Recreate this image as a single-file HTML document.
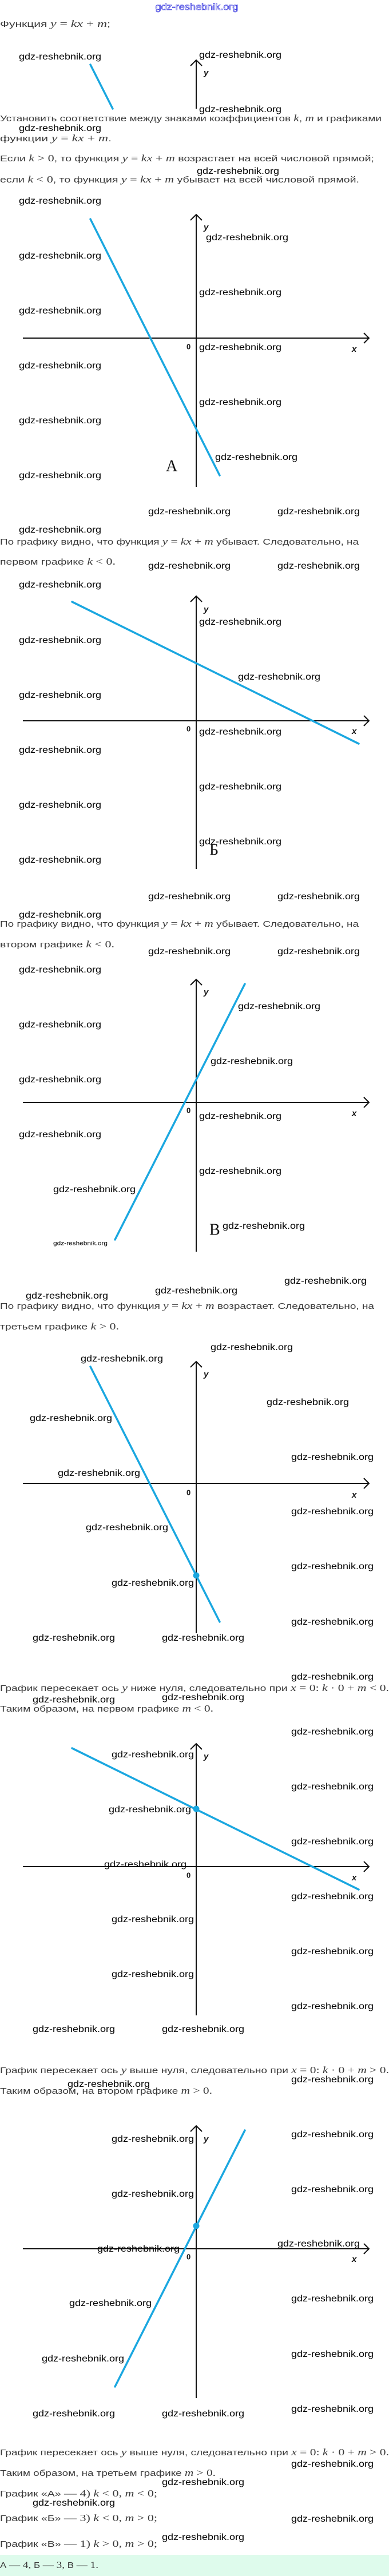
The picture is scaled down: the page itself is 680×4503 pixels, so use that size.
<!DOCTYPE html>
<html><head><meta charset="utf-8"><style>
html,body{margin:0;padding:0;background:#fff}
svg{display:block}
.w{font-family:"Liberation Sans",sans-serif;font-size:16px;fill:#000;dominant-baseline:middle}
.t{font-family:"Liberation Sans",sans-serif;font-size:15px;fill:#3a3a3a;dominant-baseline:middle}
.m{font-family:"Liberation Serif",serif;font-style:italic;font-size:17px}
.n{font-family:"Liberation Serif",serif;font-size:17px}
.ax{stroke:#111;stroke-width:2;fill:none}
.bl{stroke:#1aa7e0;stroke-width:3.5;stroke-linecap:round;fill:none}
.lab{font-family:"Liberation Sans",sans-serif;font-size:15px;font-weight:bold;font-style:italic;fill:#111;dominant-baseline:middle}
.z{font-family:"Liberation Sans",sans-serif;font-size:13px;font-weight:bold;fill:#111;dominant-baseline:middle}
.L{font-family:"Liberation Serif",serif;font-size:28px;fill:#111;dominant-baseline:middle}
</style></head><body>
<svg width="680" height="4503" viewBox="0 0 680 4503" xmlns="http://www.w3.org/2000/svg">
<rect x="0" y="4466" width="680" height="37" fill="#defbec"/>
<text x="344" y="13" text-anchor="middle" font-family="Liberation Sans" font-size="17" fill="#fff" stroke="#3a3ae0" stroke-width="0.8" dominant-baseline="middle" textLength="145" lengthAdjust="spacingAndGlyphs">gdz-reshebnik.org</text>

<!-- text top -->
<text class="t" x="0" y="43" textLength="193" lengthAdjust="spacingAndGlyphs">Функция <tspan class="m">y</tspan> <tspan class="n">=</tspan> <tspan class="m">kx</tspan> <tspan class="n">+</tspan> <tspan class="m">m</tspan>;</text>
<!-- small clipped picture -->
<line class="ax" x1="343" y1="105" x2="343" y2="190"/><polyline class="ax" points="333,115 343,105 353,115"/>
<text class="lab" x="356" y="128">y</text>
<line class="bl" x1="158" y1="113" x2="197" y2="190"/>
<text class="w" x="33" y="100" textLength="144" lengthAdjust="spacingAndGlyphs">gdz-reshebnik.org</text>
<text class="w" x="348" y="97" textLength="144" lengthAdjust="spacingAndGlyphs">gdz-reshebnik.org</text>
<text class="w" x="348" y="192" textLength="144" lengthAdjust="spacingAndGlyphs">gdz-reshebnik.org</text>
<text class="t" x="0" y="208" textLength="667" lengthAdjust="spacingAndGlyphs">Установить соответствие между знаками коэффициентов <tspan class="m">k</tspan>, <tspan class="m">m</tspan> и графиками</text>
<text class="w" x="33" y="225" textLength="144" lengthAdjust="spacingAndGlyphs">gdz-reshebnik.org</text>
<text class="t" x="0" y="243" textLength="195" lengthAdjust="spacingAndGlyphs">функции <tspan class="m">y</tspan> <tspan class="n">=</tspan> <tspan class="m">kx</tspan> <tspan class="n">+</tspan> <tspan class="m">m</tspan>.</text>
<text class="t" x="0" y="278" textLength="654" lengthAdjust="spacingAndGlyphs">Если <tspan class="m">k</tspan> <tspan class="n">&gt; 0</tspan>, то функция <tspan class="m">y</tspan> <tspan class="n">=</tspan> <tspan class="m">kx</tspan> <tspan class="n">+</tspan> <tspan class="m">m</tspan> возрастает на всей числовой прямой;</text>
<text class="w" x="344" y="300" textLength="144" lengthAdjust="spacingAndGlyphs">gdz-reshebnik.org</text>
<text class="t" x="0" y="315" textLength="628" lengthAdjust="spacingAndGlyphs">если <tspan class="m">k</tspan> <tspan class="n">&lt; 0</tspan>, то функция <tspan class="m">y</tspan> <tspan class="n">=</tspan> <tspan class="m">kx</tspan> <tspan class="n">+</tspan> <tspan class="m">m</tspan> убывает на всей числовой прямой.</text>

<!-- Graph A -->
<line class="ax" x1="343" y1="375" x2="343" y2="851"/><polyline class="ax" points="333,385 343,375 353,385"/>
<line class="ax" x1="40" y1="591" x2="645" y2="591"/><polyline class="ax" points="636,582 645,591 636,600"/>
<text class="lab" x="356" y="398">y</text><text class="z" x="326" y="607">0</text><text class="lab" x="615" y="611">x</text>
<line class="bl" x1="158" y1="383" x2="384" y2="831"/>
<text class="L" x="290" y="817">A</text>
<g class="w" >
<text class="w" x="33" y="352" textLength="144" lengthAdjust="spacingAndGlyphs">gdz-reshebnik.org</text>
<text class="w" x="360" y="416" textLength="144" lengthAdjust="spacingAndGlyphs">gdz-reshebnik.org</text>
<text class="w" x="33" y="448" textLength="144" lengthAdjust="spacingAndGlyphs">gdz-reshebnik.org</text>
<text class="w" x="348" y="512" textLength="144" lengthAdjust="spacingAndGlyphs">gdz-reshebnik.org</text>
<text class="w" x="33" y="544" textLength="144" lengthAdjust="spacingAndGlyphs">gdz-reshebnik.org</text>
<text class="w" x="348" y="608" textLength="144" lengthAdjust="spacingAndGlyphs">gdz-reshebnik.org</text>
<text class="w" x="33" y="640" textLength="144" lengthAdjust="spacingAndGlyphs">gdz-reshebnik.org</text>
<text class="w" x="348" y="704" textLength="144" lengthAdjust="spacingAndGlyphs">gdz-reshebnik.org</text>
<text class="w" x="33" y="736" textLength="144" lengthAdjust="spacingAndGlyphs">gdz-reshebnik.org</text>
<text class="w" x="376" y="800" textLength="144" lengthAdjust="spacingAndGlyphs">gdz-reshebnik.org</text>
<text class="w" x="33" y="832" textLength="144" lengthAdjust="spacingAndGlyphs">gdz-reshebnik.org</text>
<text class="w" x="259" y="895" textLength="144" lengthAdjust="spacingAndGlyphs">gdz-reshebnik.org</text>
<text class="w" x="485" y="895" textLength="144" lengthAdjust="spacingAndGlyphs">gdz-reshebnik.org</text>
<text class="w" x="33" y="927" textLength="144" lengthAdjust="spacingAndGlyphs">gdz-reshebnik.org</text>
<text class="w" x="259" y="990" textLength="144" lengthAdjust="spacingAndGlyphs">gdz-reshebnik.org</text>
<text class="w" x="485" y="990" textLength="144" lengthAdjust="spacingAndGlyphs">gdz-reshebnik.org</text>
</g>
<text class="t" x="0" y="948" textLength="627" lengthAdjust="spacingAndGlyphs">По графику видно, что функция <tspan class="m">y</tspan> <tspan class="n">=</tspan> <tspan class="m">kx</tspan> <tspan class="n">+</tspan> <tspan class="m">m</tspan> убывает. Следовательно, на</text>
<text class="t" x="0" y="983" textLength="202" lengthAdjust="spacingAndGlyphs">первом графике <tspan class="m">k</tspan> <tspan class="n">&lt; 0.</tspan></text>

<!-- Graph B -->
<text class="w" x="33" y="1023" textLength="144" lengthAdjust="spacingAndGlyphs">gdz-reshebnik.org</text>
<line class="ax" x1="343" y1="1042" x2="343" y2="1519"/><polyline class="ax" points="333,1052 343,1042 353,1052"/>
<line class="ax" x1="40" y1="1260" x2="645" y2="1260"/><polyline class="ax" points="636,1251 645,1260 636,1269"/>
<text class="lab" x="356" y="1066">y</text><text class="z" x="326" y="1275">0</text><text class="lab" x="615" y="1279">x</text>
<line class="bl" x1="126" y1="1052" x2="627" y2="1300"/>
<text class="L" x="366" y="1488">Б</text>
<text class="w" x="348" y="1088" textLength="144" lengthAdjust="spacingAndGlyphs">gdz-reshebnik.org</text>
<text class="w" x="33" y="1120" textLength="144" lengthAdjust="spacingAndGlyphs">gdz-reshebnik.org</text>
<text class="w" x="416" y="1184" textLength="144" lengthAdjust="spacingAndGlyphs">gdz-reshebnik.org</text>
<text class="w" x="33" y="1216" textLength="144" lengthAdjust="spacingAndGlyphs">gdz-reshebnik.org</text>
<text class="w" x="348" y="1280" textLength="144" lengthAdjust="spacingAndGlyphs">gdz-reshebnik.org</text>
<text class="w" x="33" y="1312" textLength="144" lengthAdjust="spacingAndGlyphs">gdz-reshebnik.org</text>
<text class="w" x="348" y="1376" textLength="144" lengthAdjust="spacingAndGlyphs">gdz-reshebnik.org</text>
<text class="w" x="33" y="1408" textLength="144" lengthAdjust="spacingAndGlyphs">gdz-reshebnik.org</text>
<text class="w" x="348" y="1472" textLength="144" lengthAdjust="spacingAndGlyphs">gdz-reshebnik.org</text>
<text class="w" x="33" y="1504" textLength="144" lengthAdjust="spacingAndGlyphs">gdz-reshebnik.org</text>
<text class="w" x="259" y="1568" textLength="144" lengthAdjust="spacingAndGlyphs">gdz-reshebnik.org</text>
<text class="w" x="485" y="1568" textLength="144" lengthAdjust="spacingAndGlyphs">gdz-reshebnik.org</text>
<text class="w" x="33" y="1600" textLength="144" lengthAdjust="spacingAndGlyphs">gdz-reshebnik.org</text>
<text class="t" x="0" y="1616" textLength="627" lengthAdjust="spacingAndGlyphs">По графику видно, что функция <tspan class="m">y</tspan> <tspan class="n">=</tspan> <tspan class="m">kx</tspan> <tspan class="n">+</tspan> <tspan class="m">m</tspan> убывает. Следовательно, на</text>
<text class="t" x="0" y="1652" textLength="200" lengthAdjust="spacingAndGlyphs">втором графике <tspan class="m">k</tspan> <tspan class="n">&lt; 0.</tspan></text>
<text class="w" x="259" y="1664" textLength="144" lengthAdjust="spacingAndGlyphs">gdz-reshebnik.org</text>
<text class="w" x="485" y="1664" textLength="144" lengthAdjust="spacingAndGlyphs">gdz-reshebnik.org</text>
<text class="w" x="33" y="1696" textLength="144" lengthAdjust="spacingAndGlyphs">gdz-reshebnik.org</text>

<!-- Graph V -->
<line class="ax" x1="343" y1="1712" x2="343" y2="2188"/><polyline class="ax" points="333,1722 343,1712 353,1722"/>
<line class="ax" x1="40" y1="1927" x2="645" y2="1927"/><polyline class="ax" points="636,1918 645,1927 636,1936"/>
<text class="lab" x="356" y="1735">y</text><text class="z" x="326" y="1942">0</text><text class="lab" x="615" y="1947">x</text>
<line class="bl" x1="428" y1="1720" x2="201" y2="2167"/>
<text class="L" x="366" y="2152">B</text>
<text class="w" x="416" y="1760" textLength="144" lengthAdjust="spacingAndGlyphs">gdz-reshebnik.org</text>
<text class="w" x="33" y="1792" textLength="144" lengthAdjust="spacingAndGlyphs">gdz-reshebnik.org</text>
<text class="w" x="368" y="1856" textLength="144" lengthAdjust="spacingAndGlyphs">gdz-reshebnik.org</text>
<text class="w" x="33" y="1888" textLength="144" lengthAdjust="spacingAndGlyphs">gdz-reshebnik.org</text>
<text class="w" x="348" y="1952" textLength="144" lengthAdjust="spacingAndGlyphs">gdz-reshebnik.org</text>
<text class="w" x="33" y="1984" textLength="144" lengthAdjust="spacingAndGlyphs">gdz-reshebnik.org</text>
<text class="w" x="348" y="2048" textLength="144" lengthAdjust="spacingAndGlyphs">gdz-reshebnik.org</text>
<text class="w" x="93" y="2080" textLength="144" lengthAdjust="spacingAndGlyphs">gdz-reshebnik.org</text>
<text class="w" x="389" y="2144" textLength="144" lengthAdjust="spacingAndGlyphs">gdz-reshebnik.org</text>
<text class="w" x="93" y="2174" font-size="10" style="font-size:10px" textLength="95" lengthAdjust="spacingAndGlyphs">gdz-reshebnik.org</text>
<text class="w" x="497" y="2240" textLength="144" lengthAdjust="spacingAndGlyphs">gdz-reshebnik.org</text>
<text class="w" x="271" y="2257" textLength="144" lengthAdjust="spacingAndGlyphs">gdz-reshebnik.org</text>
<text class="w" x="45" y="2266" textLength="144" lengthAdjust="spacingAndGlyphs">gdz-reshebnik.org</text>
<text class="t" x="0" y="2284" textLength="654" lengthAdjust="spacingAndGlyphs">По графику видно, что функция <tspan class="m">y</tspan> <tspan class="n">=</tspan> <tspan class="m">kx</tspan> <tspan class="n">+</tspan> <tspan class="m">m</tspan> возрастает. Следовательно, на</text>
<text class="t" x="0" y="2320" textLength="208" lengthAdjust="spacingAndGlyphs">третьем графике <tspan class="m">k</tspan> <tspan class="n">&gt; 0.</tspan></text>

<!-- Graph 4 -->
<text class="w" x="368" y="2356" textLength="144" lengthAdjust="spacingAndGlyphs">gdz-reshebnik.org</text>
<text class="w" x="141" y="2376" textLength="144" lengthAdjust="spacingAndGlyphs">gdz-reshebnik.org</text>
<line class="ax" x1="343" y1="2380" x2="343" y2="2855"/><polyline class="ax" points="333,2390 343,2380 353,2390"/>
<line class="ax" x1="40" y1="2593" x2="645" y2="2593"/><polyline class="ax" points="636,2584 645,2593 636,2602"/>
<text class="lab" x="356" y="2403">y</text><text class="z" x="326" y="2610">0</text><text class="lab" x="615" y="2614">x</text>
<line class="bl" x1="158" y1="2389" x2="384" y2="2835"/>
<circle cx="343" cy="2754" r="5.5" fill="#1aa7e0"/>
<text class="w" x="466" y="2452" textLength="144" lengthAdjust="spacingAndGlyphs">gdz-reshebnik.org</text>
<text class="w" x="52" y="2480" textLength="144" lengthAdjust="spacingAndGlyphs">gdz-reshebnik.org</text>
<text class="w" x="509" y="2548" textLength="144" lengthAdjust="spacingAndGlyphs">gdz-reshebnik.org</text>
<text class="w" x="101" y="2576" textLength="144" lengthAdjust="spacingAndGlyphs">gdz-reshebnik.org</text>
<text class="w" x="509" y="2643" textLength="144" lengthAdjust="spacingAndGlyphs">gdz-reshebnik.org</text>
<text class="w" x="150" y="2671" textLength="144" lengthAdjust="spacingAndGlyphs">gdz-reshebnik.org</text>
<text class="w" x="509" y="2739" textLength="144" lengthAdjust="spacingAndGlyphs">gdz-reshebnik.org</text>
<text class="w" x="195" y="2768" textLength="144" lengthAdjust="spacingAndGlyphs">gdz-reshebnik.org</text>
<text class="w" x="509" y="2836" textLength="144" lengthAdjust="spacingAndGlyphs">gdz-reshebnik.org</text>
<text class="w" x="57" y="2864" textLength="144" lengthAdjust="spacingAndGlyphs">gdz-reshebnik.org</text>
<text class="w" x="283" y="2864" textLength="144" lengthAdjust="spacingAndGlyphs">gdz-reshebnik.org</text>
<text class="w" x="509" y="2932" textLength="144" lengthAdjust="spacingAndGlyphs">gdz-reshebnik.org</text>
<text class="t" x="0" y="2952" textLength="680" lengthAdjust="spacingAndGlyphs">График пересекает ось <tspan class="m">y</tspan> ниже нуля, следовательно при <tspan class="m">x</tspan> <tspan class="n">= 0:</tspan> <tspan class="m">k</tspan> <tspan class="n">· 0 +</tspan> <tspan class="m">m</tspan> <tspan class="n">&lt; 0.</tspan></text>
<text class="w" x="57" y="2972" textLength="144" lengthAdjust="spacingAndGlyphs">gdz-reshebnik.org</text>
<text class="w" x="283" y="2968" textLength="144" lengthAdjust="spacingAndGlyphs">gdz-reshebnik.org</text>
<text class="t" x="0" y="2988" textLength="373" lengthAdjust="spacingAndGlyphs">Таким образом, на первом графике <tspan class="m">m</tspan> <tspan class="n">&lt; 0.</tspan></text>

<!-- Graph 5 -->
<text class="w" x="509" y="3028" textLength="144" lengthAdjust="spacingAndGlyphs">gdz-reshebnik.org</text>
<line class="ax" x1="343" y1="3048" x2="343" y2="3523"/><polyline class="ax" points="333,3058 343,3048 353,3058"/>
<line class="ax" x1="40" y1="3263" x2="645" y2="3263"/><polyline class="ax" points="636,3254 645,3263 636,3272"/>
<text class="lab" x="356" y="3071">y</text><text class="z" x="326" y="3279">0</text><text class="lab" x="615" y="3283">x</text>
<line class="bl" x1="126" y1="3056" x2="627" y2="3303"/>
<circle cx="343" cy="3162" r="5.5" fill="#1aa7e0"/>
<text class="w" x="195" y="3068" textLength="144" lengthAdjust="spacingAndGlyphs">gdz-reshebnik.org</text>
<text class="w" x="509" y="3124" textLength="144" lengthAdjust="spacingAndGlyphs">gdz-reshebnik.org</text>
<text class="w" x="190" y="3164" textLength="144" lengthAdjust="spacingAndGlyphs">gdz-reshebnik.org</text>
<text class="w" x="509" y="3220" textLength="144" lengthAdjust="spacingAndGlyphs">gdz-reshebnik.org</text>
<text class="w" x="182" y="3260" textLength="144" lengthAdjust="spacingAndGlyphs">gdz-reshebnik.org</text>
<text class="w" x="509" y="3316" textLength="144" lengthAdjust="spacingAndGlyphs">gdz-reshebnik.org</text>
<text class="w" x="195" y="3356" textLength="144" lengthAdjust="spacingAndGlyphs">gdz-reshebnik.org</text>
<text class="w" x="509" y="3412" textLength="144" lengthAdjust="spacingAndGlyphs">gdz-reshebnik.org</text>
<text class="w" x="195" y="3452" textLength="144" lengthAdjust="spacingAndGlyphs">gdz-reshebnik.org</text>
<text class="w" x="509" y="3508" textLength="144" lengthAdjust="spacingAndGlyphs">gdz-reshebnik.org</text>
<text class="w" x="57" y="3548" textLength="144" lengthAdjust="spacingAndGlyphs">gdz-reshebnik.org</text>
<text class="w" x="283" y="3548" textLength="144" lengthAdjust="spacingAndGlyphs">gdz-reshebnik.org</text>
<text class="t" x="0" y="3620" textLength="680" lengthAdjust="spacingAndGlyphs">График пересекает ось <tspan class="m">y</tspan> выше нуля, следовательно при <tspan class="m">x</tspan> <tspan class="n">= 0:</tspan> <tspan class="m">k</tspan> <tspan class="n">· 0 +</tspan> <tspan class="m">m</tspan> <tspan class="n">&gt; 0.</tspan></text>
<text class="w" x="509" y="3636" textLength="144" lengthAdjust="spacingAndGlyphs">gdz-reshebnik.org</text>
<text class="w" x="118" y="3644" textLength="144" lengthAdjust="spacingAndGlyphs">gdz-reshebnik.org</text>
<text class="t" x="0" y="3656" textLength="371" lengthAdjust="spacingAndGlyphs">Таким образом, на втором графике <tspan class="m">m</tspan> <tspan class="n">&gt; 0.</tspan></text>

<!-- Graph 6 -->
<line class="ax" x1="343" y1="3716" x2="343" y2="4192"/><polyline class="ax" points="333,3726 343,3716 353,3726"/>
<line class="ax" x1="40" y1="3931" x2="645" y2="3931"/><polyline class="ax" points="636,3922 645,3931 636,3940"/>
<text class="lab" x="356" y="3740">y</text><text class="z" x="326" y="3946">0</text><text class="lab" x="615" y="3950">x</text>
<line class="bl" x1="428" y1="3724" x2="201" y2="4172"/>
<circle cx="343" cy="3891" r="5.5" fill="#1aa7e0"/>
<text class="w" x="195" y="3740" textLength="144" lengthAdjust="spacingAndGlyphs">gdz-reshebnik.org</text>
<text class="w" x="509" y="3732" textLength="144" lengthAdjust="spacingAndGlyphs">gdz-reshebnik.org</text>
<text class="w" x="195" y="3836" textLength="144" lengthAdjust="spacingAndGlyphs">gdz-reshebnik.org</text>
<text class="w" x="509" y="3828" textLength="144" lengthAdjust="spacingAndGlyphs">gdz-reshebnik.org</text>
<text class="w" x="170" y="3932" textLength="144" lengthAdjust="spacingAndGlyphs">gdz-reshebnik.org</text>
<text class="w" x="485" y="3923" textLength="144" lengthAdjust="spacingAndGlyphs">gdz-reshebnik.org</text>
<text class="w" x="509" y="4019" textLength="144" lengthAdjust="spacingAndGlyphs">gdz-reshebnik.org</text>
<text class="w" x="121" y="4027" textLength="144" lengthAdjust="spacingAndGlyphs">gdz-reshebnik.org</text>
<text class="w" x="73" y="4124" textLength="144" lengthAdjust="spacingAndGlyphs">gdz-reshebnik.org</text>
<text class="w" x="509" y="4116" textLength="144" lengthAdjust="spacingAndGlyphs">gdz-reshebnik.org</text>
<text class="w" x="57" y="4220" textLength="144" lengthAdjust="spacingAndGlyphs">gdz-reshebnik.org</text>
<text class="w" x="283" y="4220" textLength="144" lengthAdjust="spacingAndGlyphs">gdz-reshebnik.org</text>
<text class="w" x="509" y="4212" textLength="144" lengthAdjust="spacingAndGlyphs">gdz-reshebnik.org</text>

<text class="t" x="0" y="4288" textLength="680" lengthAdjust="spacingAndGlyphs">График пересекает ось <tspan class="m">y</tspan> выше нуля, следовательно при <tspan class="m">x</tspan> <tspan class="n">= 0:</tspan> <tspan class="m">k</tspan> <tspan class="n">· 0 +</tspan> <tspan class="m">m</tspan> <tspan class="n">&gt; 0.</tspan></text>
<text class="w" x="509" y="4308" textLength="144" lengthAdjust="spacingAndGlyphs">gdz-reshebnik.org</text>
<text class="t" x="0" y="4324" textLength="377" lengthAdjust="spacingAndGlyphs">Таким образом, на третьем графике <tspan class="m">m</tspan> <tspan class="n">&gt; 0.</tspan></text>
<text class="w" x="283" y="4340" textLength="144" lengthAdjust="spacingAndGlyphs">gdz-reshebnik.org</text>
<text class="t" x="0" y="4360" textLength="275" lengthAdjust="spacingAndGlyphs">График «А» <tspan class="n">— 4)</tspan> <tspan class="m">k</tspan> <tspan class="n">&lt; 0,</tspan> <tspan class="m">m</tspan> <tspan class="n">&lt; 0;</tspan></text>
<text class="w" x="57" y="4376" textLength="144" lengthAdjust="spacingAndGlyphs">gdz-reshebnik.org</text>
<text class="t" x="0" y="4403" textLength="275" lengthAdjust="spacingAndGlyphs">График «Б» <tspan class="n">— 3)</tspan> <tspan class="m">k</tspan> <tspan class="n">&lt; 0,</tspan> <tspan class="m">m</tspan> <tspan class="n">&gt; 0;</tspan></text>
<text class="w" x="509" y="4404" textLength="144" lengthAdjust="spacingAndGlyphs">gdz-reshebnik.org</text>
<text class="w" x="283" y="4436" textLength="144" lengthAdjust="spacingAndGlyphs">gdz-reshebnik.org</text>
<text class="t" x="0" y="4448" textLength="275" lengthAdjust="spacingAndGlyphs">График «В» <tspan class="n">— 1)</tspan> <tspan class="m">k</tspan> <tspan class="n">&gt; 0,</tspan> <tspan class="m">m</tspan> <tspan class="n">&gt; 0;</tspan></text>
<text class="t" x="0" y="4485" textLength="172" lengthAdjust="spacingAndGlyphs">А <tspan class="n">— 4,</tspan> Б <tspan class="n">— 3,</tspan> В <tspan class="n">— 1.</tspan></text>
</svg>
</body></html>
